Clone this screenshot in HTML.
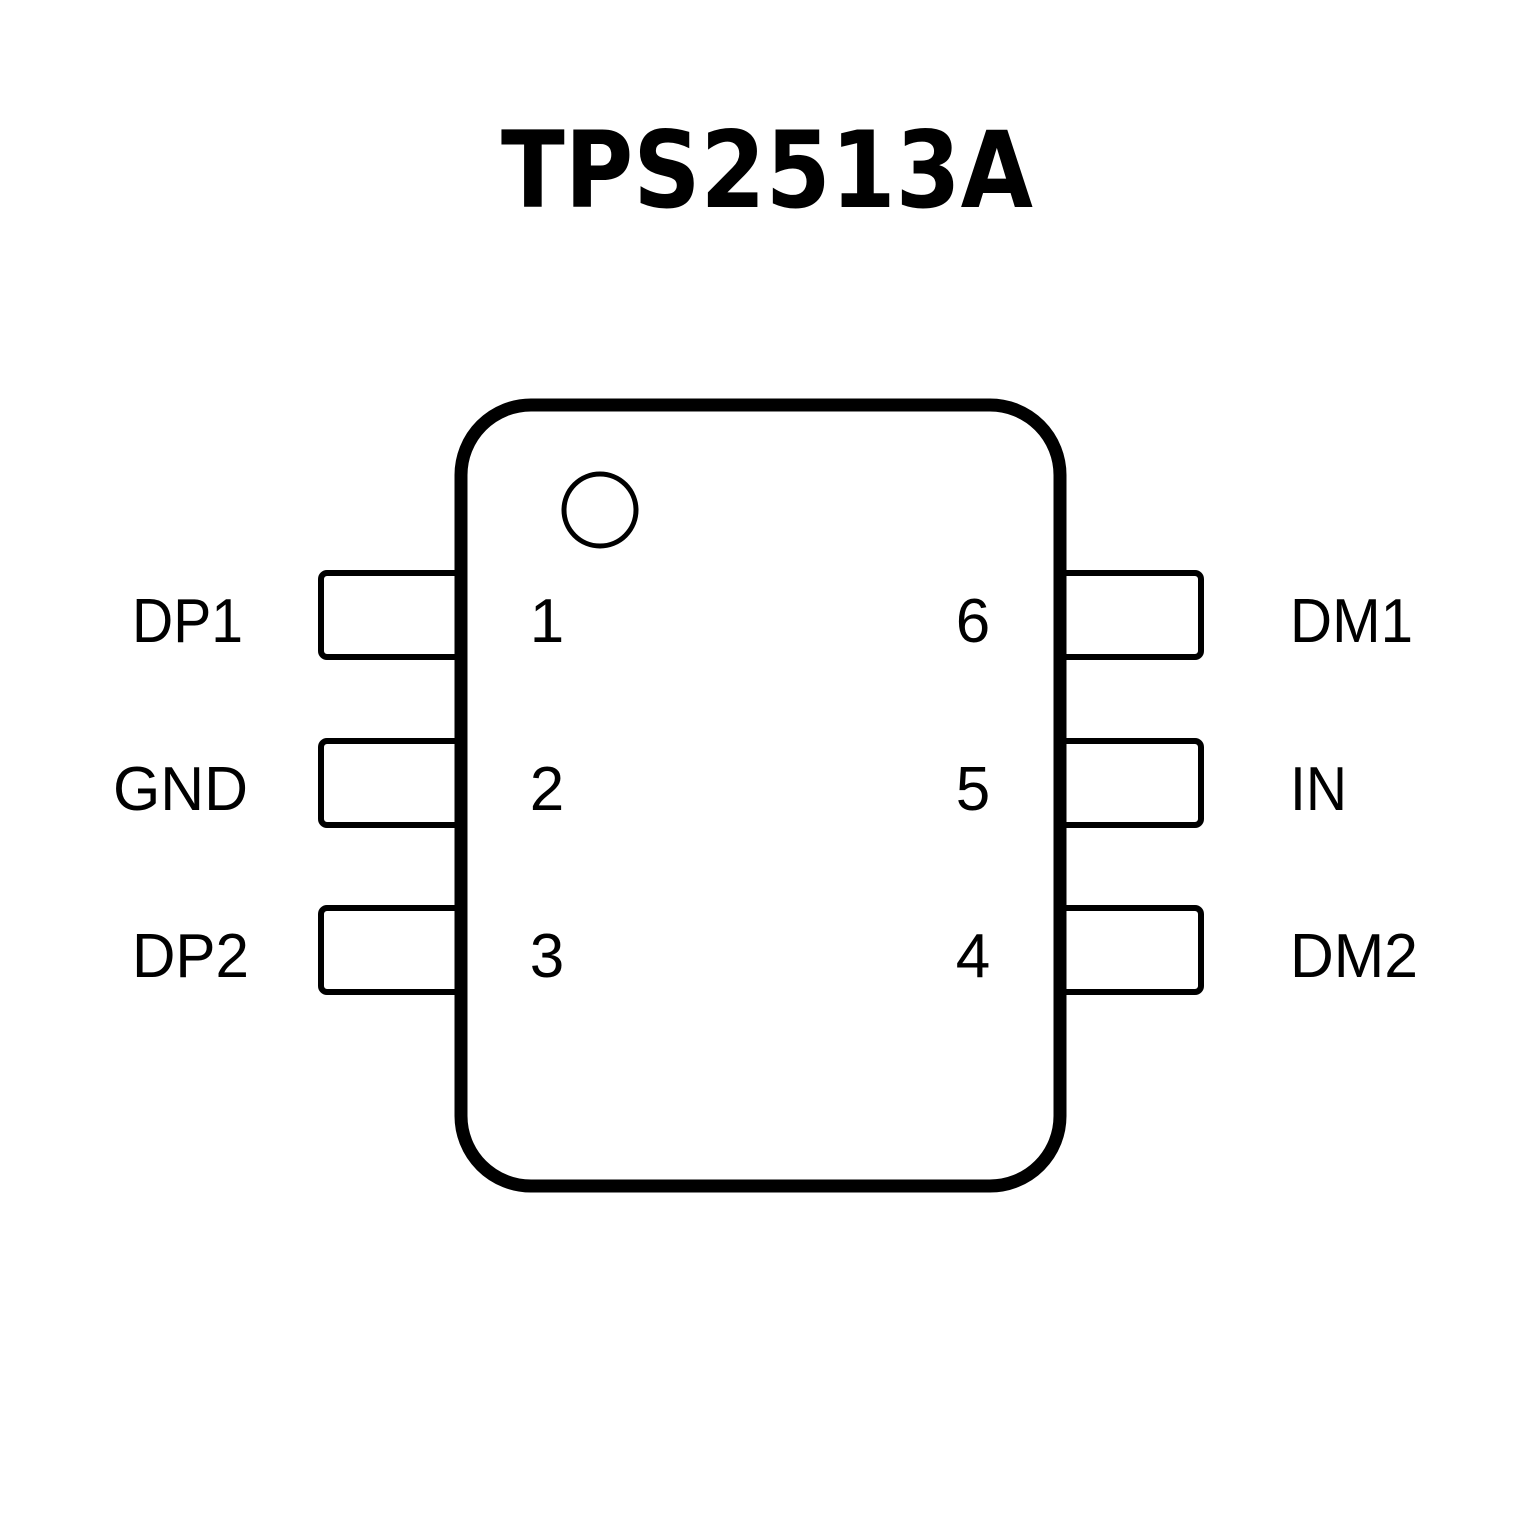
<!DOCTYPE html>
<html><head><style>html,body{margin:0;padding:0;background:#fff}</style></head>
<body>
<svg width="1535" height="1535" viewBox="0 0 1535 1535" xmlns="http://www.w3.org/2000/svg">
<rect width="1535" height="1535" fill="#fff"/>
<text x="767" y="207" text-anchor="middle" font-family="DejaVu Sans, Liberation Sans, sans-serif" font-weight="bold" font-size="106" textLength="532" lengthAdjust="spacingAndGlyphs" fill="#000">TPS2513A</text>
<g fill="none" stroke="#000" stroke-width="6">
<rect x="321" y="573" width="140" height="84" rx="6"/>
<rect x="321" y="741" width="140" height="84" rx="6"/>
<rect x="321" y="908" width="140" height="84" rx="6"/>
<rect x="1060" y="573" width="141" height="84" rx="6"/>
<rect x="1060" y="741" width="141" height="84" rx="6"/>
<rect x="1060" y="908" width="141" height="84" rx="6"/>
</g>
<rect x="461" y="405" width="599" height="781" rx="70" fill="#fff" stroke="#000" stroke-width="13"/>
<circle cx="600" cy="510" r="36" fill="none" stroke="#000" stroke-width="5"/>
<g font-family="Liberation Sans, sans-serif" font-size="62" fill="#000" lengthAdjust="spacingAndGlyphs">
<text x="132" y="642" textLength="111" lengthAdjust="spacingAndGlyphs">DP1</text>
<text x="113" y="810" textLength="135" lengthAdjust="spacingAndGlyphs">GND</text>
<text x="132" y="977" textLength="117" lengthAdjust="spacingAndGlyphs">DP2</text>
<text x="1290" y="642" textLength="123" lengthAdjust="spacingAndGlyphs">DM1</text>
<text x="1290" y="810" textLength="57" lengthAdjust="spacingAndGlyphs">IN</text>
<text x="1290" y="977" textLength="128" lengthAdjust="spacingAndGlyphs">DM2</text>
<text x="547" y="642" text-anchor="middle">1</text>
<text x="547" y="810" text-anchor="middle">2</text>
<text x="547" y="977" text-anchor="middle">3</text>
<text x="973" y="642" text-anchor="middle">6</text>
<text x="973" y="810" text-anchor="middle">5</text>
<text x="973" y="977" text-anchor="middle">4</text>
</g>
</svg>
</body></html>
